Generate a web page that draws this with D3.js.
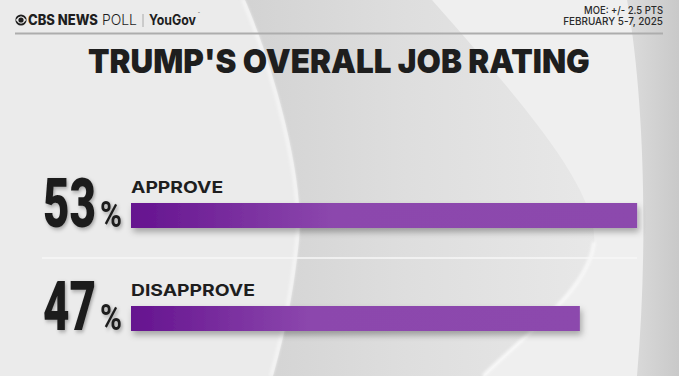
<!DOCTYPE html>
<html>
<head>
<meta charset="utf-8">
<script src="https://cdn.jsdelivr.net/npm/d3@7"></script>
<style>
	body { margin: 0; padding: 0; background: #ebebeb; overflow: hidden; }
	svg { display: block; }
</style>
</head>
<body>
<div id="chart"></div>
<script>

///////////////////////////////////////////////////////////////////////////
//////////////////////////////// Data /////////////////////////////////////
///////////////////////////////////////////////////////////////////////////

var categories = ["APPROVE", "DISAPPROVE"];
var values = [53, 47];
var titleText = "TRUMP'S OVERALL JOB RATING";
var moeLines = ["MOE: +/- 2.5 PTS", "FEBRUARY 5-7, 2025"];

///////////////////////////////////////////////////////////////////////////
//////////////////// Set up and initiate svg containers ///////////////////
///////////////////////////////////////////////////////////////////////////

var width = 679,
	height = 376;

var svg = d3.select("#chart")
	.append("svg")
	.attr("width", width)
	.attr("height", height);

var defs = svg.append("defs");

//Squeeze or stretch a text horizontally so it covers the wanted width
function fitText(sel, x, y, w) {
	sel.each(function(d,i) {
		var node = this,
			xx = typeof x === "function" ? x(d,i) : x,
			yy = typeof y === "function" ? y(d,i) : y,
			ww = typeof w === "function" ? w(d,i) : w;
		var s = ww / node.getComputedTextLength();
		d3.select(node).attr("transform", "translate(" + xx + "," + yy + ") scale(" + s + ",1)");
	});
}//fitText

//Gradient for the big gray swoosh
var swoosh = defs.append("linearGradient")
	.attr("id", "swooshGrad")
	.attr("gradientUnits", "userSpaceOnUse")
	.attr("x1", 250).attr("y1", 0).attr("x2", 600).attr("y2", 0);
swoosh.append("stop").attr("offset", "0%").attr("stop-color", "#d3d3d3");
swoosh.append("stop").attr("offset", "45%").attr("stop-color", "#dedede");
swoosh.append("stop").attr("offset", "100%").attr("stop-color", "#e8e8e8");

//Gradient for the dark edge on the right
var edge = defs.append("linearGradient")
	.attr("id", "edgeGrad")
	.attr("x1", "0%").attr("x2", "100%");
edge.append("stop").attr("offset", "0%").attr("stop-color", "#dcdcdc");
edge.append("stop").attr("offset", "100%").attr("stop-color", "#c9c9c9");

//Gradient for the bars, dark purple at the start
var barGrad = defs.append("linearGradient")
	.attr("id", "barGrad")
	.attr("x1", "0%").attr("x2", "100%");
barGrad.append("stop").attr("offset", "0%").attr("stop-color", "#65138f");
barGrad.append("stop").attr("offset", "40%").attr("stop-color", "#8c47ad");
barGrad.append("stop").attr("offset", "100%").attr("stop-color", "#8c48ad");

//Soft shadows
defs.append("filter")
	.attr("id", "barShadow")
	.attr("x", "-5%").attr("y", "-30%").attr("width", "110%").attr("height", "180%")
	.append("feDropShadow")
	.attr("dx", 2).attr("dy", 4)
	.attr("stdDeviation", 3)
	.attr("flood-color", "#000")
	.attr("flood-opacity", 0.3);

defs.append("filter")
	.attr("id", "numShadow")
	.attr("x", "-20%").attr("y", "-20%").attr("width", "150%").attr("height", "150%")
	.append("feDropShadow")
	.attr("dx", 2).attr("dy", 2)
	.attr("stdDeviation", 2)
	.attr("flood-color", "#000")
	.attr("flood-opacity", 0.3);

defs.append("filter")
	.attr("id", "softBlur")
	.append("feGaussianBlur")
	.attr("stdDeviation", 1.5);

///////////////////////////////////////////////////////////////////////////
////////////////////////////// Background /////////////////////////////////
///////////////////////////////////////////////////////////////////////////

svg.append("rect")
	.attr("width", width)
	.attr("height", height)
	.style("fill", "#ebebeb");

//Lighter area between the swoosh and the right edge
svg.append("path")
	.attr("d", "M432,0 L679,0 L679,376 L483,376 Z")
	.style("fill", "#efefef");

//The big gray swoosh
svg.append("path")
	.attr("d", "M245,0 C275,70 305,180 299,240 C293,300 283,340 273,376 L483,376 " +
		"C530,330 588,290 594,245 C600,190 520,100 432,0 Z")
	.style("fill", "url(#swooshGrad)");

//Light rim along the left edge of the swoosh
svg.append("path")
	.attr("d", "M243,0 C273,70 303,180 297,240 C291,300 281,340 271,376")
	.style("fill", "none")
	.style("stroke", "#f6f6f6")
	.style("stroke-width", 3)
	.style("filter", "url(#softBlur)");

//White highlight along the lower right curve
svg.append("path")
	.attr("d", "M594,242 C588,290 530,330 483,376")
	.style("fill", "none")
	.style("stroke", "#fbfbfb")
	.style("stroke-width", 3)
	.style("filter", "url(#softBlur)");

//Darker edge on the right
svg.append("path")
	.attr("d", "M627,0 C645,100 648,250 637,376 L679,376 L679,0 Z")
	.style("fill", "url(#edgeGrad)");

///////////////////////////////////////////////////////////////////////////
//////////////////////////////// Header ///////////////////////////////////
///////////////////////////////////////////////////////////////////////////

var header = svg.append("g").attr("class", "header");

//CBS eye
header.append("circle")
	.attr("cx", 21).attr("cy", 20).attr("r", 5.6)
	.style("fill", "#1e1e1e");
header.append("path")
	.attr("d", "M15.8,20 Q21,12.6 26.2,20 Q21,27.4 15.8,20 Z")
	.style("fill", "#ebebeb");
header.append("circle")
	.attr("cx", 21).attr("cy", 20).attr("r", 2.6)
	.style("fill", "#1e1e1e");

header.append("text")
	.style("font-family", "Inter, 'Open Sans', sans-serif")
	.style("font-weight", 800)
	.style("font-size", "14px")
	.style("fill", "#1e1e1e")
	.text("CBS NEWS")
	.call(fitText, 28, 25, 70);

header.append("text")
	.style("font-family", "Inter, 'Open Sans', sans-serif")
	.style("font-weight", 300)
	.style("font-size", "14px")
	.style("fill", "#1e1e1e")
	.text("POLL")
	.call(fitText, 102, 25, 35);

header.append("line")
	.attr("x1", 143).attr("x2", 143)
	.attr("y1", 14).attr("y2", 27)
	.style("stroke", "#999")
	.style("stroke-width", 0.8);

header.append("text")
	.style("font-family", "Inter, 'Open Sans', sans-serif")
	.style("font-weight", 700)
	.style("font-size", "14px")
	.style("fill", "#1e1e1e")
	.text("YouGov")
	.call(fitText, 149, 25, 47);

header.append("text")
	.attr("x", 198).attr("y", 14.5)
	.style("font-family", "Inter, sans-serif")
	.style("font-size", "3px")
	.style("fill", "#1e1e1e")
	.text("™");

//MOE and dates, right aligned
header.selectAll(".moe")
	.data(moeLines)
	.enter().append("text")
	.attr("class", "moe")
	.style("text-anchor", "end")
	.style("font-family", "Inter, 'Open Sans', sans-serif")
	.style("font-weight", 500)
	.style("font-size", "10.5px")
	.style("fill", "#2a2a2a")
	.text(function(d) { return d; })
	.call(fitText, 663, function(d,i) { return 14 + i*11.3; }, function(d,i) { return i === 0 ? 79 : 100; });

//Rule below header
header.append("line")
	.attr("x1", 15).attr("x2", 663)
	.attr("y1", 33.5).attr("y2", 33.5)
	.style("stroke", "#adadad")
	.style("stroke-width", 2);

//Title
svg.append("text")
	.attr("class", "title")
	.style("font-family", "Inter, 'Open Sans', sans-serif")
	.style("font-weight", 900)
	.style("font-size", "33px")
	.style("fill", "#1e1e1e")
	.text(titleText)
	.call(fitText, 88, 73, 502);

///////////////////////////////////////////////////////////////////////////
///////////////////////////////// Bars ////////////////////////////////////
///////////////////////////////////////////////////////////////////////////

var x = d3.scaleLinear()
	.domain([0, 100])
	.range([131, 131 + 955]);

var y = d3.scalePoint()
	.domain(categories)
	.range([203, 306]);

var barHeight = 25;

var data = categories.map(function(c,i) { return { cat: c, value: values[i] }; });

//Thin separator between the two rows
var sepY = (y(categories[0]) + barHeight + y(categories[1]))/2 - 9;
svg.append("line")
	.attr("x1", 42).attr("x2", x(d3.max(values)))
	.attr("y1", sepY)
	.attr("y2", sepY)
	.style("stroke", "#f7f7f7")
	.style("stroke-width", 1.5);

var rows = svg.selectAll(".row")
	.data(data)
	.enter().append("g")
	.attr("class", "row");

rows.append("rect")
	.attr("x", x(0))
	.attr("y", function(d) { return y(d.cat); })
	.attr("width", function(d) { return x(d.value) - x(0); })
	.attr("height", barHeight)
	.style("fill", "url(#barGrad)")
	.style("filter", "url(#barShadow)");

//Category labels, stretched to the wide geometric look of the original
rows.append("text")
	.attr("class", "label")
	.style("font-family", "Inter, 'Open Sans', sans-serif")
	.style("font-weight", 700)
	.style("font-size", "16px")
	.style("fill", "#1e1e1e")
	.text(function(d) { return d.cat; })
	.call(fitText, x(0), function(d) { return y(d.cat) - 10; }, function(d) { return d.cat.length * 10.6 + 18; });

//Big condensed numbers
rows.append("text")
	.attr("class", "number")
	.style("font-family", "Roboto, 'DejaVu Sans Condensed', sans-serif")
	.style("font-weight", 900)
	.style("font-size", "68px")
	.style("fill", "#1e1e1e")
	.style("filter", "url(#numShadow)")
	.text(function(d) { return d.value; })
	.call(fitText, 43, function(d) { return y(d.cat) + barHeight - 1; }, 53);

rows.append("text")
	.attr("class", "pct")
	.style("font-family", "Roboto, 'DejaVu Sans Condensed', sans-serif")
	.style("font-weight", 700)
	.style("font-size", "37px")
	.style("fill", "#1e1e1e")
	.style("filter", "url(#numShadow)")
	.text("%")
	.call(fitText, 100, function(d) { return y(d.cat) + barHeight - 1; }, 22);

</script>
</body>
</html>
